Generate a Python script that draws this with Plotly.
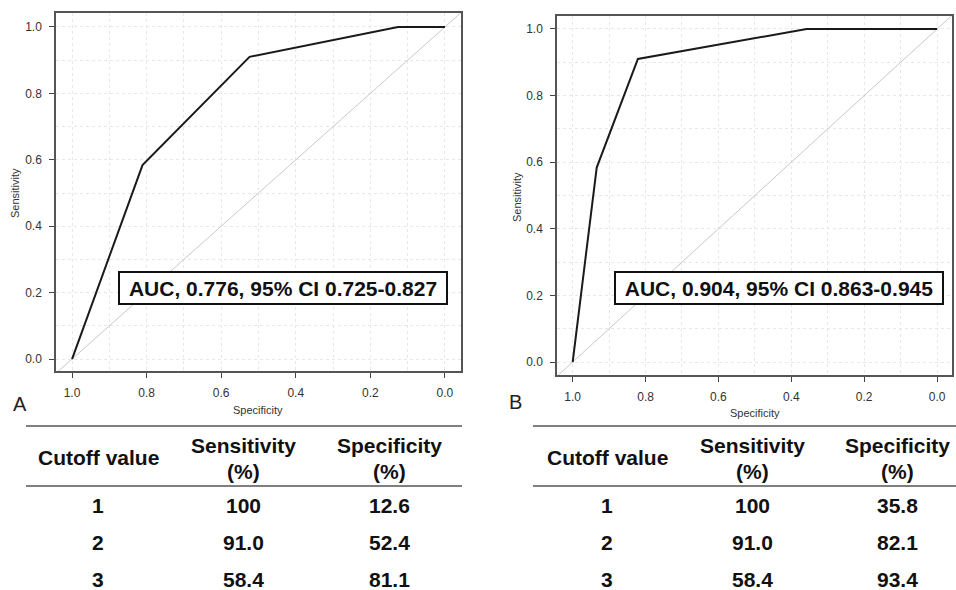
import plotly.graph_objects as go

# ---------------- data ----------------
cutoffs = ["1", "2", "3"]
sens_a = ["100", "91.0", "58.4"]
spec_a = ["12.6", "52.4", "81.1"]
sens_b = ["100", "91.0", "58.4"]
spec_b = ["35.8", "82.1", "93.4"]

roc_a_spec = [1.0, 0.811, 0.524, 0.126, 0.0]
roc_a_sens = [0.0, 0.584, 0.910, 1.0, 1.0]
roc_b_spec = [1.0, 0.934, 0.821, 0.358, 0.0]
roc_b_sens = [0.0, 0.584, 0.910, 1.0, 1.0]

diag_x = [1.2, -0.2]
diag_y = [-0.2, 1.2]

auc_a = "AUC, 0.776, 95% CI 0.725-0.827"
auc_b = "AUC, 0.904, 95% CI 0.863-0.945"

tick_vals = [0.0, 0.2, 0.4, 0.6, 0.8, 1.0]
tick_text = ["0.0", "0.2", "0.4", "0.6", "0.8", "1.0"]
header = ["Cutoff value", "Sensitivity", "Specificity"]

W, H = 956, 590
FONT = "Liberation Sans, Arial, sans-serif"


def fx(x):
    return x / W


def fy(y):
    return 1 - y / H


fig = go.Figure()

for ax, sx, sy in [("", roc_a_spec, roc_a_sens), ("2", roc_b_spec, roc_b_sens)]:
    fig.add_trace(go.Scatter(x=diag_x, y=diag_y, mode="lines",
                             line=dict(color="#c8c8c8", width=1),
                             xaxis="x" + ax, yaxis="y" + ax, hoverinfo="skip",
                             showlegend=False, cliponaxis=True))
    fig.add_trace(go.Scatter(x=sx, y=sy, mode="lines",
                             line=dict(color="#1a1a1a", width=2),
                             xaxis="x" + ax, yaxis="y" + ax,
                             showlegend=False))


def axis_common():
    return dict(
        tickvals=tick_vals, ticktext=tick_text, ticks="outside", ticklen=5,
        tickcolor="#444", tickwidth=1,
        tickfont=dict(family=FONT, size=12, color="#333"),
        showline=True, mirror=True, linecolor="#555", linewidth=1.5,
        showgrid=True, gridcolor="#e8e8e8", griddash="dot", gridwidth=1,
        minor=dict(dtick=0.1, tick0=0, showgrid=True, gridcolor="#e8e8e8",
                   griddash="dot", gridwidth=1, ticks=""),
        zeroline=False, fixedrange=True, ticklabelstandoff=5,
    )


layout = dict(
    width=W, height=H, margin=dict(l=0, r=0, t=0, b=0),
    paper_bgcolor="white", plot_bgcolor="white", showlegend=False,
    xaxis=dict(domain=[fx(56), fx(461)], range=[1.043, -0.043], anchor="y", **axis_common()),
    yaxis=dict(domain=[fy(371), fy(13)], range=[-0.036, 1.042], anchor="x", **axis_common()),
    xaxis2=dict(domain=[fx(557), fx(952)], range=[1.043, -0.041], anchor="y2", **axis_common()),
    yaxis2=dict(domain=[fy(375), fy(16)], range=[-0.039, 1.039], anchor="x2", **axis_common()),
)
fig.update_layout(**layout)

ann = []
# AUC boxes
for cx, txt in [(283, auc_a), (778.5, auc_b)]:
    ann.append(dict(x=fx(cx), y=fy(288), xref="paper", yref="paper", text="<b>%s</b>" % txt,
                    showarrow=False, xanchor="center", yanchor="middle",
                    font=dict(family=FONT, size=21, color="#111"),
                    bgcolor="white", bordercolor="#111", borderwidth=2,
                    width=324, height=28, borderpad=1))

# axis titles
for x, y in [(258, 410), (755, 413)]:
    ann.append(dict(x=fx(x), y=fy(y), xref="paper", yref="paper", text="Specificity",
                    showarrow=False, xanchor="center", yanchor="middle",
                    font=dict(family=FONT, size=11, color="#333")))
for x, y in [(15, 193), (517, 197)]:
    ann.append(dict(x=fx(x), y=fy(y), xref="paper", yref="paper", text="Sensitivity",
                    showarrow=False, xanchor="center", yanchor="middle", textangle=-90,
                    font=dict(family=FONT, size=11, color="#333")))

# panel letters
for x, y, t in [(20, 404, "A"), (515, 402, "B")]:
    ann.append(dict(x=fx(x), y=fy(y), xref="paper", yref="paper", text=t,
                    showarrow=False, xanchor="center", yanchor="middle",
                    font=dict(family=FONT, size=20, color="#222")))

# tables
tables = [
    (dict(c0=98, c1=243, c2=389), sens_a, spec_a, (26, 462)),
    (dict(c0=607, c1=752, c2=897), sens_b, spec_b, (533, 956)),
]
row_y = [505, 542, 579]
shapes = []
for cols, sens, spec, (x0, x1) in tables:
    tf = dict(family=FONT, size=21, color="#111")
    ann.append(dict(x=fx(cols["c0"]), y=fy(457), xref="paper", yref="paper",
                    text="<b>%s</b>" % header[0], showarrow=False,
                    xanchor="center", yanchor="middle", font=tf))
    for key, h in [("c1", header[1]), ("c2", header[2])]:
        ann.append(dict(x=fx(cols[key]), y=fy(445), xref="paper", yref="paper",
                        text="<b>%s</b>" % h, showarrow=False,
                        xanchor="center", yanchor="middle", font=tf))
        ann.append(dict(x=fx(cols[key]), y=fy(471), xref="paper", yref="paper",
                        text="<b>(%)</b>", showarrow=False,
                        xanchor="center", yanchor="middle", font=tf))
    for i, ry in enumerate(row_y):
        for key, v in [("c0", cutoffs[i]), ("c1", sens[i]), ("c2", spec[i])]:
            ann.append(dict(x=fx(cols[key]), y=fy(ry), xref="paper", yref="paper",
                            text="<b>%s</b>" % v, showarrow=False,
                            xanchor="center", yanchor="middle", font=tf))
    for ly in (426, 486):
        shapes.append(dict(type="line", xref="paper", yref="paper",
                           x0=fx(x0), x1=fx(x1), y0=fy(ly), y1=fy(ly),
                           line=dict(color="#555", width=1.5)))

fig.update_layout(annotations=ann, shapes=shapes)
fig.write_html(
    "out.html",
    config={"displayModeBar": False},
    post_script="document.body.style.margin='0';document.body.style.padding='0';"
                "document.body.style.overflow='hidden';",
)
